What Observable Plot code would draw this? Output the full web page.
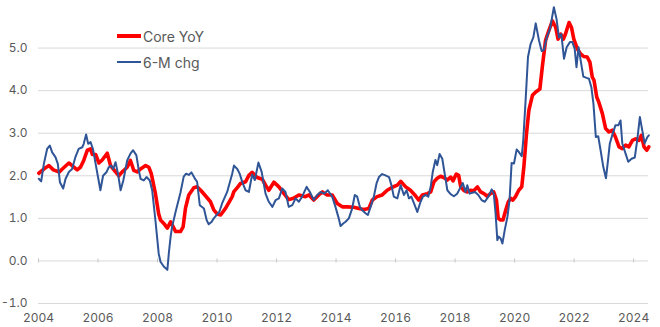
<!DOCTYPE html>
<html><head><meta charset="utf-8">
<script src="https://cdn.jsdelivr.net/npm/d3@7"></script>
<script src="https://cdn.jsdelivr.net/npm/@observablehq/plot@0.6"></script>
<style>
body{margin:0;background:#fff;font-family:Inter,"Noto Sans",sans-serif;}
#wrap{position:relative;width:660px;height:327px;}
#wrap svg{display:block;}
.legend{position:absolute;left:117px;top:23px;font-size:14px;color:#595959;}
.item{display:flex;align-items:center;height:26px;}
.sw{width:24px;margin-right:2px;}
</style></head><body><div id="wrap"></div>
<script>
const seriesNames = ["Core YoY", "6-M chg"];
const seriesColors = ["#ff0000", "#2f5597"];

const coreYears = [2004.01,2004.24,2004.35,2004.50,2004.70,2004.80,2005.02,2005.13,2005.30,2005.41,2005.52,2005.64,2005.75,2005.81,2005.92,2006.03,2006.14,2006.31,2006.42,2006.59,2006.70,2006.81,2006.98,2007.09,2007.20,2007.32,2007.43,2007.60,2007.71,2007.79,2007.93,2008.04,2008.10,2008.21,2008.33,2008.44,2008.61,2008.77,2008.86,2008.94,2009.05,2009.22,2009.33,2009.45,2009.61,2009.78,2009.89,2010.01,2010.12,2010.29,2010.42,2010.51,2010.56,2010.68,2010.79,2010.96,2011.07,2011.18,2011.35,2011.52,2011.63,2011.74,2011.91,2012.08,2012.25,2012.41,2012.57,2012.75,2012.97,2013.09,2013.25,2013.42,2013.54,2013.70,2013.87,2014.04,2014.21,2014.38,2014.60,2014.77,2014.93,2015.10,2015.22,2015.38,2015.55,2015.72,2015.89,2016.06,2016.17,2016.34,2016.50,2016.67,2016.78,2016.90,2017.07,2017.18,2017.29,2017.40,2017.51,2017.62,2017.74,2017.85,2017.93,2018.04,2018.12,2018.19,2018.30,2018.41,2018.52,2018.63,2018.75,2018.86,2018.97,2019.08,2019.19,2019.30,2019.39,2019.45,2019.53,2019.61,2019.70,2019.79,2019.87,2019.94,2020.03,2020.14,2020.24,2020.31,2020.40,2020.48,2020.60,2020.71,2020.85,2020.93,2021.04,2021.15,2021.27,2021.38,2021.46,2021.55,2021.64,2021.71,2021.83,2021.91,2021.99,2022.11,2022.22,2022.33,2022.44,2022.53,2022.61,2022.67,2022.76,2022.83,2022.95,2023.06,2023.17,2023.28,2023.39,2023.51,2023.62,2023.73,2023.84,2023.96,2024.07,2024.18,2024.26,2024.35,2024.44,2024.51];
const coreValues = [2.06,2.19,2.24,2.14,2.09,2.16,2.30,2.24,2.14,2.20,2.36,2.60,2.63,2.50,2.50,2.30,2.37,2.53,2.24,2.09,2.00,2.09,2.20,2.36,2.13,2.09,2.16,2.24,2.20,2.05,1.58,1.10,0.96,0.88,0.77,0.92,0.69,0.69,0.80,1.24,1.55,1.72,1.74,1.66,1.53,1.39,1.20,1.10,1.08,1.24,1.40,1.51,1.62,1.72,1.82,1.86,2.01,2.08,1.96,1.92,1.78,1.66,1.85,1.74,1.58,1.44,1.47,1.55,1.51,1.55,1.43,1.55,1.62,1.55,1.55,1.35,1.27,1.27,1.26,1.23,1.21,1.23,1.43,1.51,1.55,1.66,1.73,1.78,1.87,1.74,1.66,1.53,1.43,1.55,1.58,1.62,1.86,1.94,1.99,1.96,1.90,1.97,1.88,2.04,2.01,1.74,1.65,1.62,1.66,1.65,1.74,1.62,1.58,1.52,1.58,1.62,1.43,1.00,0.96,0.96,1.19,1.39,1.47,1.43,1.51,1.66,1.74,2.20,2.99,3.54,3.89,3.97,4.04,4.55,5.18,5.41,5.64,5.49,5.21,5.33,5.21,5.33,5.60,5.49,5.21,4.98,4.86,4.80,4.79,4.67,4.32,4.24,3.85,3.73,3.46,3.11,3.03,3.07,2.91,2.68,2.64,2.72,2.68,2.83,2.87,2.83,2.95,2.68,2.60,2.68];

const chgYears = [2004.01,2004.09,2004.18,2004.29,2004.38,2004.46,2004.57,2004.65,2004.72,2004.83,2004.91,2005.02,2005.13,2005.24,2005.35,2005.47,2005.52,2005.60,2005.67,2005.75,2005.83,2005.92,2006.01,2006.08,2006.17,2006.29,2006.36,2006.44,2006.51,2006.59,2006.67,2006.76,2006.85,2006.98,2007.09,2007.18,2007.29,2007.37,2007.43,2007.54,2007.63,2007.74,2007.82,2007.93,2008.04,2008.10,2008.21,2008.33,2008.38,2008.44,2008.49,2008.61,2008.77,2008.88,2008.96,2009.05,2009.14,2009.25,2009.33,2009.42,2009.56,2009.65,2009.72,2009.82,2009.89,2010.01,2010.08,2010.17,2010.34,2010.51,2010.57,2010.68,2010.76,2010.85,2010.96,2011.07,2011.18,2011.27,2011.39,2011.50,2011.63,2011.74,2011.86,2011.97,2012.08,2012.19,2012.30,2012.41,2012.53,2012.64,2012.75,2012.86,2013.01,2013.12,2013.25,2013.37,2013.48,2013.61,2013.72,2013.87,2013.98,2014.09,2014.15,2014.24,2014.32,2014.43,2014.54,2014.63,2014.71,2014.80,2014.88,2014.99,2015.07,2015.16,2015.27,2015.36,2015.44,2015.55,2015.66,2015.78,2015.86,2015.94,2016.06,2016.17,2016.28,2016.37,2016.45,2016.53,2016.62,2016.73,2016.84,2016.92,2017.01,2017.10,2017.18,2017.25,2017.34,2017.40,2017.48,2017.57,2017.66,2017.74,2017.85,2017.96,2018.07,2018.19,2018.26,2018.35,2018.41,2018.49,2018.58,2018.67,2018.78,2018.89,2019.00,2019.12,2019.23,2019.30,2019.36,2019.42,2019.47,2019.53,2019.59,2019.67,2019.76,2019.83,2019.90,2019.98,2020.07,2020.14,2020.24,2020.29,2020.37,2020.45,2020.54,2020.63,2020.71,2020.82,2020.91,2020.99,2021.08,2021.19,2021.32,2021.41,2021.49,2021.57,2021.66,2021.75,2021.86,2021.94,2022.02,2022.08,2022.15,2022.22,2022.31,2022.42,2022.50,2022.58,2022.65,2022.69,2022.73,2022.81,2022.89,2022.98,2023.07,2023.14,2023.20,2023.28,2023.39,2023.49,2023.56,2023.62,2023.73,2023.82,2023.93,2024.04,2024.12,2024.21,2024.30,2024.37,2024.46,2024.51];
const chgValues = [1.93,1.87,2.28,2.63,2.71,2.55,2.44,2.28,1.85,1.70,1.93,2.09,2.16,2.44,2.63,2.67,2.75,2.97,2.75,2.79,2.63,2.28,1.93,1.66,2.00,2.09,2.20,2.24,2.16,2.32,2.05,1.66,1.89,2.36,2.52,2.60,2.48,2.13,1.93,1.89,1.97,1.89,1.66,0.95,0.17,-0.02,-0.13,-0.21,0.18,0.57,0.80,1.16,1.60,1.98,2.05,2.02,2.08,1.94,1.86,1.31,1.23,0.96,0.86,0.92,1.00,1.10,1.16,1.35,1.62,2.05,2.24,2.16,2.05,1.85,1.66,1.62,2.03,1.90,2.31,2.09,1.58,1.39,1.27,1.43,1.47,1.70,1.62,1.27,1.31,1.47,1.39,1.51,1.74,1.62,1.43,1.55,1.62,1.58,1.66,1.51,1.27,1.00,0.82,0.88,0.92,1.00,1.23,1.55,1.51,1.27,1.19,1.12,1.08,1.27,1.51,1.82,1.97,2.04,2.01,1.97,1.78,1.51,1.47,1.78,1.55,1.66,1.47,1.51,1.35,1.15,1.39,1.51,1.55,1.51,1.74,2.09,2.37,2.25,2.51,2.40,2.01,1.66,1.57,1.52,1.58,1.74,1.83,1.62,1.78,1.58,1.60,1.62,1.55,1.43,1.39,1.51,1.68,1.58,1.12,0.49,0.57,0.53,0.41,0.73,1.04,1.43,2.30,2.29,2.62,2.56,2.46,2.83,3.77,4.79,5.10,5.25,5.58,5.18,4.93,4.96,5.25,5.45,5.96,5.68,5.25,5.33,4.75,5.02,5.14,5.14,4.98,4.55,5.02,4.71,4.33,4.30,4.28,4.08,3.69,3.30,2.91,2.93,2.60,2.21,1.94,2.37,2.76,2.95,3.19,3.19,3.30,2.76,2.52,2.33,2.40,2.43,2.83,3.38,3.03,2.76,2.91,2.95];

const yTicks = [-1, 0, 1, 2, 3, 4, 5];
const xTicks = [2004, 2006, 2008, 2010, 2012, 2014, 2016, 2018, 2020, 2022, 2024];

if (coreYears.length !== coreValues.length || chgYears.length !== chgValues.length) {
  throw new Error(`length mismatch core ${coreYears.length}/${coreValues.length} chg ${chgYears.length}/${chgValues.length}`);
}
const core = coreYears.map((t, i) => ({t, v: coreValues[i]}));
const chg = chgYears.map((t, i) => ({t, v: chgValues[i]}));

const chart = Plot.plot({
  width: 660,
  height: 327,
  marginLeft: 38,
  marginRight: 12,
  marginTop: 5,
  marginBottom: 24,
  style: {fontFamily: "Inter, 'Noto Sans', sans-serif", fontSize: "12px", color: "#595959", background: "#fff"},
  x: {domain: [2004, 2024.5]},
  y: {domain: [-1, 6]},
  marks: [
    Plot.gridY(yTicks, {stroke: "#d9d9d9", strokeOpacity: 1, strokeWidth: 1}),
    Plot.ruleX(xTicks, {x: d => d, y1: -0.05, y2: 0.05, stroke: "#c8c8c8", strokeWidth: 1}),
    Plot.line(core, {x: "t", y: "v", stroke: seriesColors[0], strokeWidth: 3.6, strokeLinejoin: "round", strokeLinecap: "round"}),
    Plot.line(chg, {x: "t", y: "v", stroke: seriesColors[1], strokeWidth: 2, strokeLinejoin: "round", strokeLinecap: "round"}),
    Plot.axisY(yTicks, {tickSize: 0, tickPadding: 11, tickFormat: d => d.toFixed(1), label: null}),
    Plot.axisX(xTicks, {tickSize: 0, tickPadding: 10, tickFormat: d => String(d), label: null})
  ]
});

const wrap = document.getElementById("wrap");
wrap.appendChild(chart);
const legend = document.createElement("div");
legend.className = "legend";
seriesNames.forEach((name, i) => {
  const item = document.createElement("div");
  item.className = "item";
  const sw = document.createElement("span");
  sw.className = "sw";
  sw.style.borderTop = `${i === 0 ? 4 : 2}px solid ${seriesColors[i]}`;
  const label = document.createElement("span");
  label.textContent = name;
  item.appendChild(sw);
  item.appendChild(label);
  legend.appendChild(item);
});
wrap.appendChild(legend);
</script>
</body></html>
